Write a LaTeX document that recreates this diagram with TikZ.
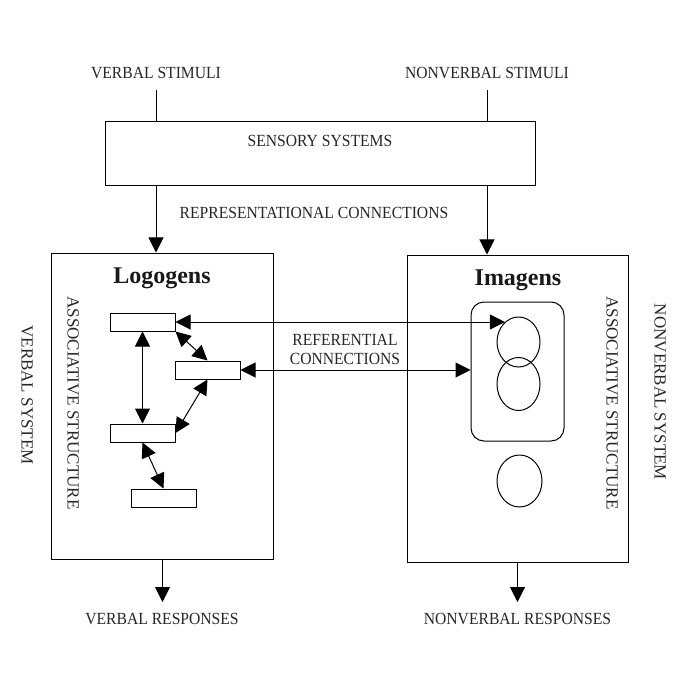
\documentclass[tikz,border=0pt]{standalone}
\usepackage{fontspec}
\setmainfont{Liberation Serif}
\usetikzlibrary{arrows.meta,shapes.geometric}
\newcommand{\hz}[1]{\scalebox{0.92}[1]{#1}}
\tikzset{
  txt/.style={inner sep=0pt, font=\fontsize{17bp}{19bp}\selectfont, text=black!85},
  ttl/.style={inner sep=0pt, font=\fontsize{24bp}{26bp}\selectfont\bfseries, text=black!90},
  boxx/.style={draw, line width=1bp, inner sep=0pt},
  ln/.style={line width=1bp},
  tip/.tip={Triangle[length=15bp,width=15bp]},
  arr/.style={ln, -tip},
  dbl/.style={ln, tip-tip},
  ell/.style={draw, ellipse, line width=1bp, inner sep=0pt},
}
\begin{document}
\begin{tikzpicture}[x=1bp, y=-1bp]
\useasboundingbox[fill=white] (0,0) rectangle (682,694);
% top labels
\node[txt] (vs) at (156,73) {\hz{VERBAL STIMULI}};
\node[txt] (nvs) at (487,73) {\hz{NONVERBAL STIMULI}};
% sensory box
\node[boxx, minimum width=429bp, minimum height=63bp] (sens) at (320.5,153.5) {};
\node[txt] (senst) at (320,141) {\hz{SENSORY SYSTEMS}};
\node[txt] (rep) at (314,213) {\hz{REPRESENTATIONAL CONNECTIONS}};
% main boxes
\node[boxx, minimum width=221bp, minimum height=306bp] (logo) at (162.5,406) {};
\node[boxx, minimum width=221bp, minimum height=307bp] (imag) at (517.5,408.5) {};
\node[ttl] (logot) at (162,278) {Logogens};
\node[ttl] (imagt) at (518,280) {Imagens};
% stimuli lines
\draw[ln] (vs.south |- 0,90) -- (vs.south |- sens.north);
\draw[ln] (nvs.south |- 0,90) -- (nvs.south |- sens.north);
% representational arrows
\draw[arr] (sens.south -| vs) -- (vs |- logo.north);
\draw[arr] (sens.south -| nvs) -- (nvs |- imag.north);
% logogen rectangles
\node[boxx, minimum width=65bp, minimum height=18bp] (r1) at (142.5,322) {};
\node[boxx, minimum width=65bp, minimum height=18bp] (r2) at (207.5,370) {};
\node[boxx, minimum width=65bp, minimum height=18bp] (r3) at (142.5,433) {};
\node[boxx, minimum width=65bp, minimum height=18bp] (r4) at (163.5,498) {};
\draw[dbl] (r1.south) -- (r3.north);
\draw[dbl] (r1.south east) -- (r2.north);
\draw[dbl] (r2.south) -- (r3.east);
\draw[dbl] (r3.south) -- (r4.north);
% imagens
\node[draw, line width=1bp, rounded corners=13bp, minimum width=93bp, minimum height=139bp, inner sep=0pt] (rr) at (517.5,371.5) {};
\node[ell, minimum width=43bp, minimum height=50bp] (e1) at (518.5,342) {};
\node[ell, minimum width=43bp, minimum height=53bp] (e2) at (518.5,384) {};
\node[ell, minimum width=45bp, minimum height=52bp] (e3) at (519.5,481) {};
% referential connections
\draw[dbl] (r1.east) -- (e1.124 |- r1.east);
\draw[dbl] (r2.east) -- (r2.east -| rr.west);
\node[txt, align=center] (ref) at (345,349.5) {\hz{REFERENTIAL}\\\hz{CONNECTIONS}};
% side labels
\node[txt, rotate=-90] (asl) at (73,403) {ASSOCIATIVE STRUCTURE};
\node[txt, rotate=-90] (asr) at (612,403) {ASSOCIATIVE STRUCTURE};
\node[txt, rotate=-90] (vsys) at (27,395) {VERBAL SYSTEM};
\node[txt, rotate=-90] (nvsys) at (660,392) {NONVERBAL SYSTEM};
% responses
\node[txt] (vr) at (162,619) {\hz{VERBAL RESPONSES}};
\node[txt] (nvr) at (517.5,619) {\hz{NONVERBAL RESPONSES}};
\draw[arr] (logo.south) -- (logo.south |- 0,602);
\draw[arr] (imag.south) -- (imag.south |- 0,602);
\end{tikzpicture}
\end{document}
